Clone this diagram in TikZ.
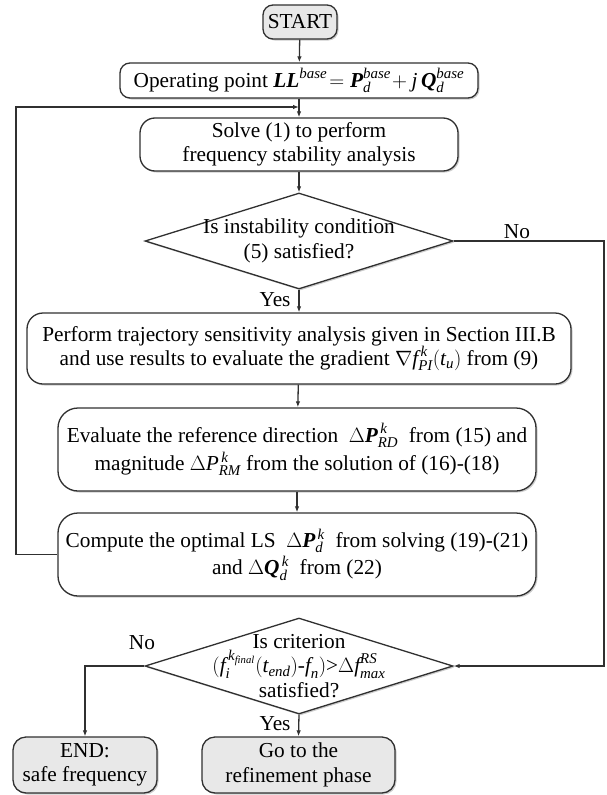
\documentclass[tikz,border=0pt]{standalone}
\usepackage{amsmath}
\usepackage{fontspec}
\setmainfont{Liberation Serif}
\usetikzlibrary{shapes.geometric,arrows.meta,shadows}
\definecolor{ln}{HTML}{303030}
\definecolor{gbox}{HTML}{E8E8E8}
\newcommand\vi[1]{\text{\itshape #1}}
\newcommand\vb[1]{\text{\bfseries\itshape #1}}
\begin{document}
\begin{tikzpicture}[x=1pt,y=-1pt,
  every node/.style={font=\fontsize{21.3}{24.5}\selectfont, text=black},
  shad/.style={drop shadow={shadow xshift=1.5pt, shadow yshift=-1.5pt, opacity=0.2, fill=black}},
  box/.style={draw=ln, line width=1.3pt, fill=white, rounded corners=#1, inner sep=0pt, align=center, shad},
  gbox/.style={box=#1, fill=gbox},
  dia/.style={diamond, draw=ln, line width=1.3pt, fill=white, inner sep=0pt, aspect=3.2, minimum width=308pt, minimum height=96pt, shad},
  conn/.style={draw=ln, line width=1.3pt},
  arr/.style={conn, -{Latex[length=6pt,width=4.5pt]}},
  lbl/.style={inner sep=0pt}
]
\useasboundingbox (0,0) rectangle (606,795);

\node[gbox=10pt, minimum width=74pt, minimum height=34pt] (start) at (300,22) {START};
\node[box=10pt, minimum width=358pt, minimum height=35pt] (op) at (299,80.5)
  {Operating point $\vb{LL}^{\vi{base}}\!=\vb{P}_{\vi{d}}^{\vi{base}}\!+\vi{j}\,\vb{Q}_{\vi{d}}^{\vi{base}}$};
\node[box=15pt, minimum width=318pt, minimum height=53pt] (solve) at (299,144.5)
  {Solve (1) to perform\\frequency stability analysis};
\node[dia] (d1) at (299,241) {};
\node[lbl, align=center] at (d1) {Is instability condition\\(5) satisfied?};
\node[box=16pt, minimum width=544pt, minimum height=71pt] (perf) at (299,348.5)
  {Perform trajectory sensitivity analysis given in Section III.B\\and use results to evaluate the gradient $\nabla\vi{f}_{\vi{PI}}^{\,\vi{k}}(\vi{t}_{\vi{u}})$ from (9)};
\node[box=20pt, minimum width=478pt, minimum height=83pt] (eval) at (297,449.5)
  {Evaluate the reference direction \ $\Delta\vb{P}_{\vi{RD}}^{\,\vi{k}}$ \ from (15) and\\[4pt]magnitude $\Delta\vi{P}_{\vi{RM}}^{\,\vi{k}}$ from the solution of (16)-(18)};
\node[box=20pt, minimum width=478pt, minimum height=83pt] (comp) at (297,554.5)
  {Compute the optimal LS \ $\Delta\vb{P}_{\vi{d}}^{\,\vi{k}}$ \ from solving (19)-(21)\\[3pt]and $\Delta\vb{Q}_{\vi{d}}^{\,\vi{k}}$ \ from (22)};
\node[dia] (d2) at (299,666) {};
\node[lbl, align=center] at (d2) {Is criterion\\$(\vi{f}_{\vi{i}}^{\,\vi{k}_{\vi{final}}}(\vi{t}_{\vi{end}})$-$\vi{f}_{\vi{n}})$>$\Delta\vi{f}_{\vi{max}}^{\vi{RS}}$\\satisfied?};
\node[gbox=13pt, minimum width=144pt, minimum height=56pt] (end) at (85,765) {END:\\safe frequency};
\node[gbox=13pt, minimum width=193pt, minimum height=56pt] (go) at (298.5,765) {Go to the\\refinement phase};

\coordinate (loopin) at (299,107);
\coordinate (lcorner) at (16,554.5);
\coordinate (rcorner) at (604,241);

\draw[arr] (start) -- (op);
\draw[arr] (op) -- (solve);
\draw[arr] (comp.west) -- (lcorner) |- (loopin);
\draw[arr] (solve) -- (d1);
\draw[arr] (d1.south) -- (perf.north);
\draw[arr] (perf) -- (eval);
\draw[arr] (eval) -- (comp);
\draw[arr] (d1.east) -- (rcorner) |- (d2.east);
\draw[arr] (d2.west) -| (end.north);
\draw[arr] (d2.south) -- (go.north);

\node[lbl] at (275,300) {Yes};
\node[lbl] at (517,232) {No};
\node[lbl] at (142,643) {No};
\node[lbl] at (275,724) {Yes};
\end{tikzpicture}
\end{document}
